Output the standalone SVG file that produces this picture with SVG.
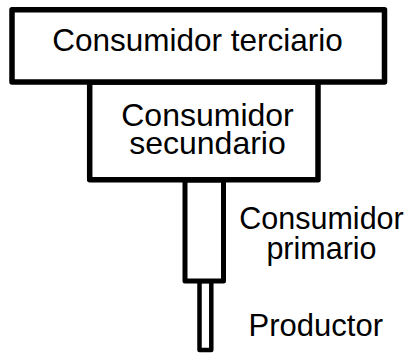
<svg xmlns="http://www.w3.org/2000/svg" width="411" height="353" viewBox="0 0 411 353">
<style>
.box{fill:#fff;stroke:#000;stroke-width:5.5;stroke-linejoin:round}
.lbl{font-family:"Liberation Sans",Arial,sans-serif;fill:#000;text-anchor:middle}
</style>
<rect width="411" height="353" fill="#fff"/>
<g id="productor">
<rect class="box" x="199.5" y="281" width="11.8" height="69" style="stroke-width:4.5"/>
<text class="lbl" x="315.8" y="336" font-size="31">Productor</text>
</g>
<g id="consumidor-primario">
<rect class="box" x="185" y="180" width="38.5" height="101" style="stroke-width:5"/>
<text class="lbl" x="321.5" y="228.5" font-size="30.5">Consumidor</text>
<text class="lbl" x="321.5" y="258.5" font-size="30.5">primario</text>
</g>
<g id="consumidor-secundario">
<rect class="box" x="89.7" y="82" width="228.3" height="97.7"/>
<text class="lbl" x="207.5" y="126" font-size="32">Consumidor</text>
<text class="lbl" x="207.5" y="153.5" font-size="32">secundario</text>
</g>
<g id="consumidor-terciario">
<rect class="box" x="12" y="9.7" width="372.5" height="72.3"/>
<text class="lbl" x="197.5" y="51" font-size="31.5">Consumidor terciario</text>
</g>
<g id="connectors"></g>
</svg>
